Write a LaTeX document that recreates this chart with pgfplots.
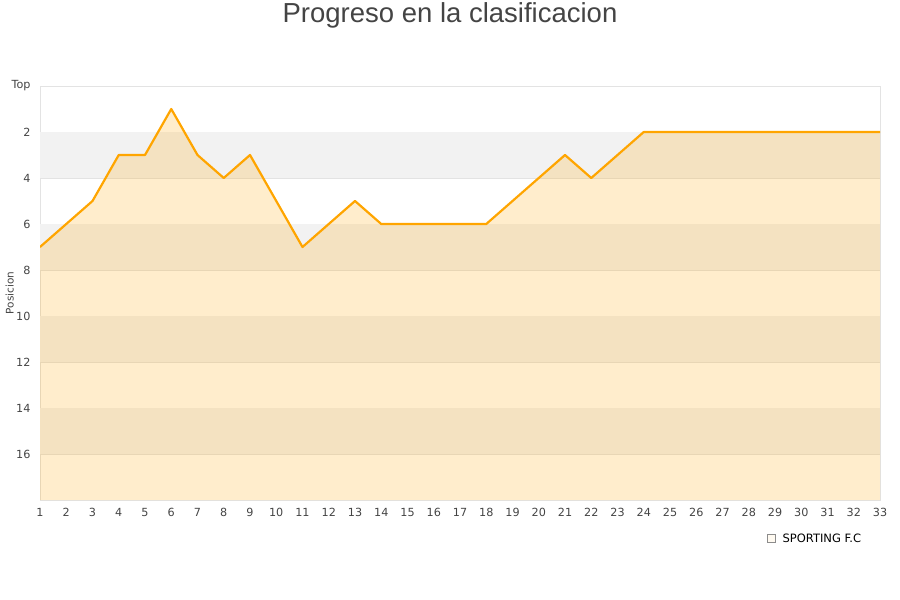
\documentclass[border=0pt]{standalone}
\usepackage{pgfplots}
\pgfplotsset{compat=1.18}
\usepackage{fontspec}
\setmainfont{DejaVu Sans}
\newfontfamily\titlefont{Liberation Sans}
\definecolor{txt}{HTML}{444444}
\definecolor{gridc}{HTML}{E3E3E3}
\definecolor{band}{HTML}{F2F2F2}
\definecolor{lineor}{HTML}{FFA500}
\begin{document}
\begin{tikzpicture}
\useasboundingbox (0pt,0pt) rectangle (900pt,600pt);
\node[text=txt,font=\titlefont\fontsize{27.5}{30}\selectfont] at (450pt,585pt) {Progreso en la clasificacion};
\begin{axis}[
  at={(40pt,100pt)}, anchor=south west,
  scale only axis, width=840pt, height=414pt,
  xmin=1, xmax=33, ymin=0, ymax=18,
  y dir=reverse,
  xtick={1,...,33},
  ytick={0,2,...,16},
  yticklabels={Top,2,4,6,8,10,12,14,16},
  /pgf/number format/assume math mode=true,
  ticklabel style={font=\fontsize{11.2}{13}\selectfont, text=txt},
  yticklabel style={xshift=-6pt},
  xticklabel style={yshift=-5pt},
  major tick length=0pt,
  axis line style={draw=gridc},
  ymajorgrids, grid style={draw=gridc, line width=0.8pt},
  ylabel={Posicion},
  ylabel style={font=\fontsize{10.5}{12}\selectfont, text=txt, at={(axis description cs:-0.036,0.5)}, anchor=center},
  legend style={at={(axis description cs:0.862,-0.093)}, anchor=west, draw=none, fill=none, font=\fontsize{11.5}{13}\selectfont},
  legend image code/.code={\draw[fill=lineor!28, draw=gray!90, line width=0.6pt] (0pt,-4pt) rectangle (8pt,4pt); \path (13pt,0pt);},
]
\fill[band] (axis cs:1,2) rectangle (axis cs:33,4);
\fill[band] (axis cs:1,6) rectangle (axis cs:33,8);
\fill[band] (axis cs:1,10) rectangle (axis cs:33,12);
\fill[band] (axis cs:1,14) rectangle (axis cs:33,16);
\addplot[fill=lineor, fill opacity=0.2, draw=none] coordinates {
(1,7) (2,6) (3,5) (4,3) (5,3) (6,1) (7,3) (8,4) (9,3) (10,5) (11,7)
(12,6) (13,5) (14,6) (15,6) (16,6) (17,6) (18,6) (19,5) (20,4) (21,3)
(22,4) (23,3) (24,2) (25,2) (26,2) (27,2) (28,2) (29,2) (30,2) (31,2)
(32,2) (33,2) (33,18) (1,18)} -- cycle;
\addlegendentry{SPORTING F.C}
\addplot[forget plot, draw=lineor, line width=2.2pt, line join=round, mark=none] coordinates {
(1,7) (2,6) (3,5) (4,3) (5,3) (6,1) (7,3) (8,4) (9,3) (10,5) (11,7)
(12,6) (13,5) (14,6) (15,6) (16,6) (17,6) (18,6) (19,5) (20,4) (21,3)
(22,4) (23,3) (24,2) (25,2) (26,2) (27,2) (28,2) (29,2) (30,2) (31,2)
(32,2) (33,2)};
\end{axis}
\end{tikzpicture}
\end{document}
